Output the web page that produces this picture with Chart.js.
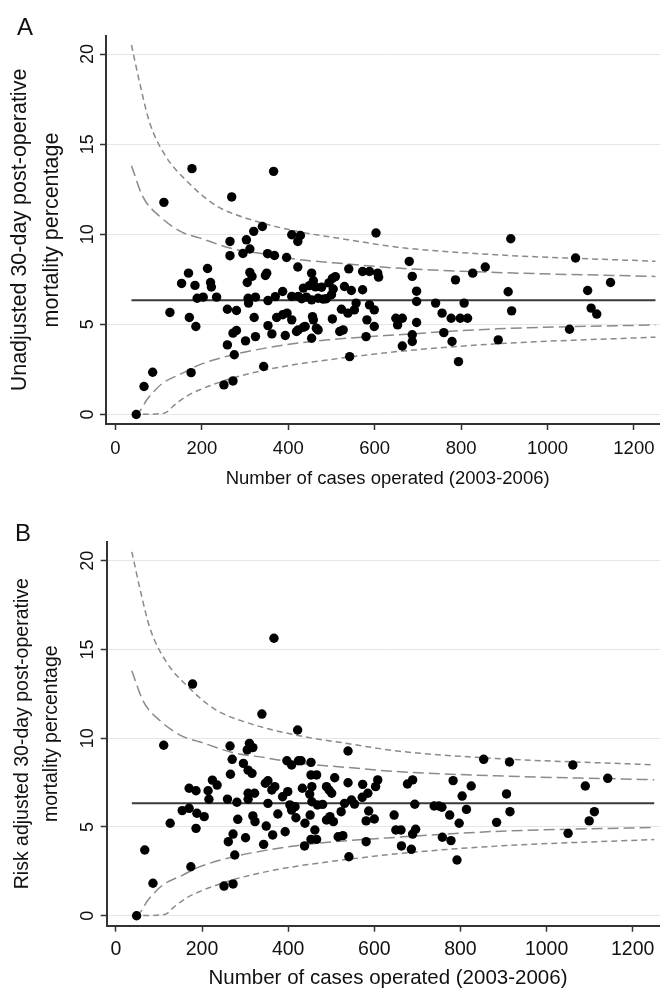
<!DOCTYPE html>
<html>
<head>
<meta charset="utf-8">
<script src="https://cdn.jsdelivr.net/npm/chart.js@4"></script>
<style>
html,body{margin:0;padding:0;background:#fff;overflow:hidden;width:660px;height:989px}
#wrap{position:relative;width:660px;height:989px;overflow:hidden}
canvas{position:absolute;left:0}
.lab{position:absolute;font-family:"Liberation Sans",Arial,sans-serif;font-size:24px;line-height:24px;color:#111}
</style>
</head>
<body>
<div id="wrap">
<canvas id="cA" width="674" height="494" style="top:0"></canvas>
<canvas id="cB" width="674" height="502" style="top:494px"></canvas>
<div class="lab" style="left:17px;top:15px">A</div>
<div class="lab" style="left:15px;top:521px">B</div>
</div>
<script>
// ---- tick labels ----
const xTickValues = [0, 200, 400, 600, 800, 1000, 1200];
const yTickValues = [0, 5, 10, 15, 20];

// ---- reference (overall) mortality line ----
const refCases = [37, 1250];
const refPct = [6.34, 6.34];

// ---- funnel control limits ----
const upperOuterCases = [37, 56, 79, 117, 163, 232, 308, 423, 538, 653, 882, 1250];
const upperOuterPct   = [20.5, 18.4, 16.2, 14.3, 13.0, 11.6, 10.85, 10.15, 9.7, 9.28, 8.86, 8.5];
const upperInnerCases = [37, 63, 102, 155, 194, 270, 347, 423, 538, 653, 882, 1250];
const upperInnerPct   = [13.8, 12.1, 11.0, 10.1, 9.8, 9.2, 8.9, 8.6, 8.35, 8.12, 7.88, 7.66];
const lowerInnerCases = [40, 50, 60, 72, 86, 109, 155, 194, 270, 347, 423, 492, 653, 882, 1250];
const lowerInnerPct   = [0, 0.05, 0.3, 0.8, 1.2, 1.73, 2.29, 2.75, 3.3, 3.68, 3.96, 4.14, 4.42, 4.75, 4.97];
const lowerOuterCases = [40, 109, 120, 132, 163, 194, 270, 347, 423, 492, 653, 882, 1250];
const lowerOuterPct   = [0, 0.05, 0.15, 0.43, 0.99, 1.36, 2.01, 2.47, 2.8, 3.03, 3.49, 3.92, 4.29];

// ---- Panel A: unadjusted mortality ----
const casesA = [48,66,86,112,126,153,169,171,175,177,184,186,189,203,213,220,222,234,251,259,259,265,265,269,272,272,275,280,280,295,
301,303,305,307,308,311,311,316,320,321,324,324,340,343,347,350,352,353,353,362,366,368,370,373,387,387,393,396,397,408,
408,408,419,422,422,423,423,428,431,435,435,439,442,449,454,458,463,477,454,454,456,458,465,469,469,481,488,494,502,509,
504,500,502,519,527,523,538,530,546,540,542,553,557,572,572,580,582,588,588,599,599,603,607,609,649,653,664,664,680,687,
687,687,697,697,697,741,756,760,777,779,787,794,798,807,815,827,856,886,909,915,917,1051,1065,1093,1101,1114,1146];
const pctA = [0,1.55,2.34,11.77,5.66,7.27,7.84,5.38,2.32,13.64,7.16,4.88,6.45,6.51,8.1,7.32,7.07,6.51,1.64,5.84,3.86,9.6,8.81,12.07,1.86,4.51,3.31,5.77,4.66,8.93,
4.08,9.69,7.32,6.45,6.18,9.18,7.88,7.66,10.16,5.38,6.51,4.32,10.43,2.66,7.71,7.84,8.92,6.32,4.93,4.47,13.49,8.82,6.54,5.38,6.82,5.53,4.38,8.71,5.62,9.97,
5.25,6.55,4.6,9.6,8.18,6.55,4.69,9.93,6.42,7.01,4.84,4.88,6.51,7.15,7.84,7.42,7.08,7.06,6.36,4.23,5.43,5.25,4.79,4.69,6.45,6.4,6.42,7.3,7.55,7.65,
6.96,6.64,5.3,4.6,4.69,5.84,5.62,7.1,6.88,8.08,3.21,5.8,6.18,6.92,7.93,4.32,5.25,7.93,6.08,5.8,4.88,10.07,7.84,7.62,5.34,4.97,5.34,3.8,8.49,7.66,
4.42,4.05,6.84,6.27,5.1,6.18,5.62,4.54,5.34,4.05,7.47,2.93,5.34,6.18,5.34,7.84,8.18,4.14,6.81,9.75,5.75,4.73,8.68,6.88,5.9,5.57,7.32];

// ---- Panel B: risk adjusted mortality ----
const casesB = [48,67,86,111,126,154,170,170,174,178,186,188,186,205,214,216,224,235,251,259,261,265,266,270,272,272,276,281,283,296,
301,305,307,307,307,310,316,318,318,322,323,339,343,347,349,353,353,362,364,367,369,376,387,393,397,399,404,408,408,416,
418,422,424,430,433,438,439,450,451,453,453,453,455,455,462,466,466,468,480,489,489,495,501,497,505,508,516,527,523,531,
539,539,541,547,554,572,573,581,581,585,587,600,603,608,646,650,662,663,677,686,689,689,694,696,739,750,757,758,775,778,
783,792,797,804,814,825,854,884,907,914,915,1050,1061,1090,1099,1111,1142];
const pctB = [0,3.7,1.83,9.6,5.21,5.92,7.18,6.05,2.76,13.05,7.04,5.77,4.92,5.58,7.04,6.56,7.64,7.36,1.67,6.57,4.17,9.56,7.97,8.81,1.79,4.6,3.42,6.39,5.43,8.58,
4.39,9.34,8.2,6.9,6.56,9.71,8.02,9.47,5.62,6.9,5.3,11.36,4.02,7.46,5.05,7.6,6.33,7.08,4.55,15.63,7.27,5.73,6.7,4.73,8.73,6.99,6.24,8.49,5.95,6.14,
5.52,10.46,8.73,8.73,7.18,3.93,5.21,6.85,5.67,8.64,7.93,4.3,7.27,6.42,4.83,7.93,4.3,6.24,6.27,5.39,7.27,7.08,6.9,5.58,5.3,7.77,4.45,4.51,5.86,6.33,
9.28,7.49,3.32,6.52,6.29,6.67,7.4,5.34,4.17,6.9,5.9,5.45,7.27,7.65,5.67,4.83,4.83,3.93,7.42,3.74,7.65,4.6,6.28,4.87,6.18,6.18,6.11,4.42,5.67,4.23,
7.61,3.14,5.21,6.74,5.99,7.31,8.81,5.26,6.86,8.66,5.86,4.64,8.49,7.31,5.34,5.86,7.74];

const FONT = '"Liberation Sans", Arial, sans-serif';
const zip = (xs, ys) => xs.map((x, i) => ({x: x, y: ys[i]}));

function curve(xs, ys, dash, width) {
  return {type: 'line', data: zip(xs, ys), borderColor: '#8a8a8a', borderWidth: width,
          borderDash: dash, pointRadius: 0, fill: false, cubicInterpolationMode: 'monotone', order: 2};
}

function makeChart(id, cfg) {
  const ctx = document.getElementById(id);
  return new Chart(ctx, {
    type: 'scatter',
    data: {
      datasets: [
        {type: 'scatter', data: zip(cfg.cases, cfg.pct), backgroundColor: '#000', borderWidth: 0,
         pointRadius: 4.7, pointHoverRadius: 4.7, order: 0},
        {type: 'line', data: zip(refCases, refPct), borderColor: '#3a3a3a', borderWidth: 2,
         pointRadius: 0, fill: false, order: 1},
        curve(upperOuterCases, upperOuterPct, [6, 4], 1.5),
        curve(upperInnerCases, upperInnerPct, [11, 5], 1.5),
        curve(lowerInnerCases, lowerInnerPct, [11, 5], 1.5),
        curve(lowerOuterCases, lowerOuterPct, [6, 4], 1.5)
      ]
    },
    options: {
      responsive: false,
      animation: false,
      devicePixelRatio: 1,
      layout: {padding: {top: cfg.padTop, left: 0, right: 0, bottom: 0}},
      plugins: {legend: {display: false}, tooltip: {enabled: false}},
      scales: {
        x: {
          type: 'linear', min: cfg.xMin, max: cfg.xMax,
          afterBuildTicks: s => { s.ticks = xTickValues.map(v => ({value: v})); },
          afterFit: s => { s.height = cfg.xH; },
          ticks: {font: {family: FONT, size: cfg.xTickSize}, color: '#111', padding: cfg.xTickPad,
                  maxRotation: 0, autoSkip: false, callback: v => String(v)},
          grid: {drawOnChartArea: false, drawTicks: true, tickLength: 6, tickColor: '#333', tickWidth: 1.5},
          border: {display: true, color: '#333', width: 2},
          title: {display: true, text: 'Number of cases operated (2003-2006)',
                  font: {family: FONT, size: cfg.xTitleSize}, color: '#111', padding: {top: 0, bottom: cfg.xTitlePad}}
        },
        y: {
          type: 'linear', min: cfg.yMin, max: cfg.yMax,
          afterBuildTicks: s => { s.ticks = yTickValues.map(v => ({value: v})); },
          afterFit: s => { s.width = cfg.yW; },
          ticks: {font: {family: FONT, size: 18}, color: '#111', padding: cfg.yTickPad,
                  minRotation: 90, maxRotation: 90, crossAlign: 'center', autoSkip: false,
                  callback: v => String(v)},
          grid: {color: '#e6e6e6', lineWidth: 1, drawTicks: true, tickLength: 6, tickColor: '#333', tickWidth: 1.5},
          border: {display: true, color: '#333', width: 2},
          title: {display: true, text: cfg.yTitle,
                  font: {family: FONT, size: cfg.yTitleSize, lineHeight: cfg.yTitleLH}, color: '#111',
                  padding: {top: cfg.yTitlePad, bottom: 0}}
        }
      }
    }
  });
}

makeChart('cA', {
  cases: casesA, pct: pctA,
  xMin: -22, xMax: 1282, yMin: -0.53, yMax: 21.0,
  padTop: 36, xH: 70, yW: 106,
  xTickSize: 18.5, xTickPad: 7.4, xTitleSize: 18.5, xTitlePad: 4.4,
  yTickPad: 2,
  yTitle: ['Unadjusted 30-day post-operative', 'mortality percentage'],
  yTitleSize: 21.5, yTitleLH: 1.465, yTitlePad: 4.75
});

makeChart('cB', {
  cases: casesB, pct: pctB,
  xMin: -21.4, xMax: 1285, yMin: -0.563, yMax: 21.07,
  padTop: 47.7, xH: 70.3, yW: 106.7,
  xTickSize: 19.5, xTickPad: 5.8, xTitleSize: 20.5, xTitlePad: 5,
  yTickPad: 3,
  yTitle: ['Risk adjusted 30-day post-operative', 'mortality percentage'],
  yTitleSize: 19.5, yTitleLH: 1.487, yTitlePad: 8.5
});
</script>
</body>
</html>
